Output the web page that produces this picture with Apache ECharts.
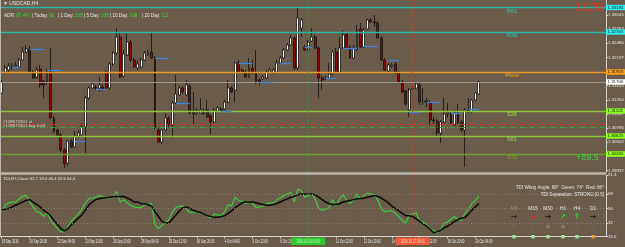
<!DOCTYPE html>
<html>
<head>
<meta charset="UTF-8">
<title>USDCAD,H4</title>
<script src="https://cdn.jsdelivr.net/npm/echarts@6/dist/echarts.min.js"></script>
<style>
  html, body { margin: 0; padding: 0; background: #6a5b4b; }
  #chart { width: 625px; height: 247px; }
</style>
</head>
<body>
<div id="chart"></div>
<script>
// H4 candles: open, high, low, close
const candles = [
  [1.31485,1.31745,1.31465,1.31705],[1.31905,1.32045,1.31865,1.31985],[1.31945,1.32085,1.31905,1.32025],[1.32005,1.32085,1.31945,1.32025],
  [1.32025,1.32105,1.31985,1.32045],[1.32005,1.32185,1.31985,1.32145],[1.32145,1.32405,1.32125,1.32305],[1.32305,1.32445,1.32285,1.32365],
  [1.32365,1.32425,1.31885,1.31905],[1.31905,1.31945,1.31765,1.31785],[1.31805,1.32005,1.31765,1.31945],[1.31965,1.32045,1.31585,1.31645],
  [1.31725,1.31745,1.31385,1.31645],[1.31705,1.31965,1.31645,1.31925],[1.31925,1.32385,1.30965,1.30985],[1.30985,1.31025,1.30685,1.30725],
  [1.30745,1.30765,1.30625,1.30645],[1.30645,1.30685,1.30305,1.30345],[1.30345,1.30385,1.29985,1.30065],[1.30085,1.30545,1.30025,1.30525],
  [1.30525,1.30565,1.30385,1.30405],[1.30405,1.30725,1.30385,1.30625],[1.30625,1.30745,1.30585,1.30685],[1.30645,1.30885,1.30625,1.30805],
  [1.30805,1.31425,1.30285,1.31385],[1.31385,1.31625,1.31345,1.31585],[1.31585,1.31705,1.31565,1.31665],[1.31605,1.31645,1.31545,1.31585],
  [1.31585,1.31805,1.31505,1.31645],[1.31605,1.31665,1.31525,1.31565],[1.31905,1.31945,1.31545,1.31585],[1.31585,1.32105,1.31545,1.32065],
  [1.32065,1.32325,1.32025,1.32285],[1.32285,1.32785,1.32245,1.32605],[1.32605,1.32685,1.31785,1.31805],[1.31825,1.32345,1.31785,1.32265],
  [1.32245,1.32705,1.32225,1.32505],[1.32505,1.32545,1.32105,1.32145],[1.32145,1.32185,1.31985,1.32005],[1.31985,1.32145,1.31945,1.32065],
  [1.32005,1.32185,1.31985,1.32145],[1.32145,1.32325,1.32125,1.32285],[1.32245,1.32345,1.32225,1.32305],[1.32305,1.32705,1.32165,1.32185],
  [1.32185,1.32225,1.30765,1.30785],[1.30745,1.30785,1.30485,1.30505],[1.30505,1.30765,1.30465,1.30745],[1.30745,1.31085,1.30725,1.30985],
  [1.30985,1.31025,1.30805,1.30845],[1.30845,1.31325,1.30585,1.31285],[1.31285,1.31845,1.31265,1.31465],[1.31445,1.31625,1.31425,1.31585],
  [1.31585,1.31625,1.31465,1.31505],[1.31445,1.31745,1.31425,1.31645],[1.31625,1.31665,1.31065,1.31085],[1.31125,1.31505,1.30845,1.31065],
  [1.31085,1.31185,1.31045,1.31105],[1.31085,1.31385,1.31065,1.31145],[1.31105,1.31185,1.31045,1.31085],[1.31145,1.31345,1.30985,1.31005],
  [1.31025,1.31065,1.30665,1.30905],[1.30905,1.31185,1.30885,1.31145],[1.31125,1.31225,1.31105,1.31185],[1.31165,1.31205,1.31105,1.31125],
  [1.31165,1.31345,1.31145,1.31305],[1.31305,1.31745,1.31285,1.31585],[1.31585,1.31625,1.31485,1.31505],[1.31545,1.32105,1.31305,1.32085],
  [1.32085,1.32145,1.31885,1.31905],[1.31945,1.31985,1.31885,1.31905],[1.31905,1.31945,1.31785,1.31805],[1.31805,1.32185,1.31785,1.31985],
  [1.31985,1.32145,1.31865,1.31885],[1.31905,1.32345,1.31665,1.31685],[1.31745,1.31785,1.31645,1.31705],[1.31765,1.31845,1.31745,1.31805],
  [1.31785,1.31945,1.31765,1.31905],[1.31905,1.31985,1.31885,1.31945],[1.31885,1.31985,1.31865,1.31945],[1.31905,1.32145,1.31885,1.32085],
  [1.32085,1.32225,1.32065,1.32185],[1.32185,1.32385,1.32165,1.32345],[1.32345,1.32485,1.32325,1.32445],[1.32445,1.32645,1.32425,1.32585],
  [1.32585,1.32625,1.31945,1.31985],[1.31985,1.33185,1.31945,1.32985],[1.32785,1.32985,1.32605,1.32945],[1.32405,1.32445,1.32325,1.32345],
  [1.32345,1.32545,1.32325,1.32505],[1.32525,1.32785,1.32505,1.32605],[1.32605,1.32645,1.32365,1.32385],[1.32385,1.32425,1.31385,1.31785],
  [1.31785,1.31825,1.31545,1.31745],[1.31765,1.31825,1.31745,1.31785],[1.31785,1.32085,1.31765,1.31865],[1.31865,1.32345,1.31845,1.32305],
  [1.32305,1.32385,1.31885,1.31905],[1.31905,1.32605,1.31885,1.32385],[1.32385,1.32745,1.32365,1.32645],[1.32665,1.32705,1.32365,1.32385],
  [1.32405,1.32445,1.32165,1.32185],[1.32185,1.32445,1.32165,1.32385],[1.32345,1.32845,1.32325,1.32745],[1.32765,1.32885,1.32385,1.32405],
  [1.32405,1.32785,1.32385,1.32745],[1.32765,1.32965,1.32745,1.32945],[1.32945,1.32985,1.32885,1.32905],[1.32905,1.33045,1.32805,1.32885],
  [1.32885,1.32925,1.32565,1.32585],[1.32585,1.32625,1.32125,1.32145],[1.32145,1.32185,1.31925,1.31945],[1.31925,1.32085,1.31905,1.32045],
  [1.32025,1.32085,1.31985,1.32045],[1.32065,1.32105,1.31865,1.31885],[1.31885,1.31925,1.31685,1.31705],[1.31705,1.31745,1.31485,1.31505],
  [1.31525,1.31545,1.31225,1.31265],[1.31145,1.31585,1.31005,1.31545],[1.31565,1.31625,1.31545,1.31585],[1.31585,1.31705,1.31565,1.31665],
  [1.31645,1.31685,1.31245,1.31305],[1.31305,1.31585,1.31245,1.31325],[1.31325,1.31385,1.31205,1.31305],[1.31285,1.31345,1.30845,1.30945],
  [1.30945,1.31005,1.30845,1.30925],[1.30925,1.30965,1.30605,1.30685],[1.30685,1.30945,1.30485,1.30905],[1.30905,1.31385,1.30885,1.31065],
  [1.31065,1.31285,1.30985,1.31085],[1.31065,1.31105,1.30865,1.30885],[1.30845,1.31145,1.30825,1.31085],[1.31105,1.31265,1.30865,1.30885],
  [1.30905,1.30945,1.30705,1.30745],[1.30745,1.31185,1.30005,1.31145],[1.31145,1.31385,1.31085,1.31105],[1.31105,1.31365,1.31085,1.31345],
  [1.31345,1.31505,1.31325,1.31485],[1.31465,1.31725,1.31445,1.31705]
];

// TDI: green price line and black signal line
const tdiGreen = [
  46,54,57,58,58,62,65,66,59,52, 46,45,40,45,36,30,25,21,21,27,
  34,39,43,49,57,62,63,64,66,65, 62,63,66,71,58,61,57,54,52,51,
  51,54,56,56,30,25,29,33,36,46, 51,53,53,50,45,45,45,44,43,40,
  38,43,42,41,46,55,53,64,60,59, 56,59,57,51,52,53,56,57,57,61,
  63,66,68,70,58,74,72,64,66,68, 62,50,48,49,51,61,53,62,67,60,
  56,60,68,61,66,69,68,67,60,50, 46,47,47,44,40,35,32,42,43,45,
  34,33,30,24,23,19,24,32,33,37, 40,36,35,44,49,56,60,65
];
const tdiBlack = [
  48,49,50,52,54,56,58,60,61,58, 55,52,48,45,41,35,30,25,22,25,
  30,34,38,42,48,54,58,61,62,63, 63,64,65,65,65,65,63,61,58,58,
  56,56,55,53,46,40,34,32,32,37, 42,47,51,52,50,48,46,45,43,41,
  40,39,39,40,41,44,47,51,54,57, 58,58,58,57,56,55,54,54,55,56,
  58,60,62,64,65,67,68,68,68,68, 67,64,61,58,56,55,55,56,58,59,
  60,61,62,62,63,64,65,66,65,63, 60,57,53,50,47,44,41,41,40,37,
  34,31,28,24,20,21,23,26,28,31, 34,36,38,39,43,48,52,56
];

const totalSlots = 174;   // bars shown incl. empty space on the right
const xTicks = [
  [0,'19 Sep 2016'],[8,'20 Sep 20:00'],[16,'22 Sep 04:00'],[24,'23 Sep 12:00'],[32,'26 Sep 20:00'],
  [40,'28 Sep 04:00'],[48,'29 Sep 12:00'],[56,'30 Sep 20:00'],[64,'4 Oct 04:00'],[72,'5 Oct 12:00'],
  [80,'6 Oct 20:00'],[88,'10 Oct 04:00'],[96,'11 Oct 12:00'],[104,'12 Oct 20:00'],[112,'14 Oct 04:00'],
  [120,'17 Oct 12:00'],[128,'18 Oct 20:00'],[136,'20 Oct 04:00']
];
const priceTicks = [1.29937,1.30220,1.30502,1.30785,1.31067,1.31350,1.31632,1.31915,1.32197,1.32480,1.32762,1.33045];
const tdiTicks = [15.5, 32, 50, 68, 91.3];
const tdiLevels = [32, 50, 68];

const levelNames = ['R61','R38','Pivot','S38','S61','S78'];
const levelValues = [1.33195,1.32705,1.31905,1.31125,1.30625,1.30265];
const currentPrice = 1.31706;
const orderStop = 1.30855;
const orderOpen = 1.30795;
const orderTexts = ['#128572301 sl', '#128572301 buy 0.03'];

// short blue marks: from bar, to bar, price
const blueSegs = [
  [3,5,1.32005],[8,12,1.32365],[13,17,1.31945],[21,24,1.30525],[27,30,1.31565],
  [44,48,1.32185],[50,54,1.31285],[63,66,1.31125],[68,72,1.32085],[74,78,1.31705],
  [80,83,1.32085],[87,89,1.32405],[93,96,1.31785],[98,102,1.32385],[104,108,1.32425],
  [111,114,1.32145],[117,120,1.31105],[122,126,1.31305],[129,132,1.31085],[134,137,1.31165]
];
const markerBars = [88, 118];
const markerTexts = ['2016.10.10 04:00', '2016.10.17 04:00'];

const adrItems = [['ADR:','87.4%'],['| Today:','92'],['| 1 Day:','108'],['| 5 Day:','108'],['| 10 Day:','108'],['| 20 Day:','111']];
const tdiHeader = 'TDI-R7-Close 61.7 19.0 40.4 37.6 64.4';
const tdiInfo = ['TDI Wkng Angle: 68°  Green: 74°  Red: 66°', 'TDI Separation: STRONG [0.5]'];
const tfNames = ['M5','M15','M30','H1','H4','D1'];
const tfArrows = ['→','↘','→','↗','↑','→'];
const tfIcons = ['✎','○','●','●','○','•'];
const moveText = '+89.5';

const FONT = 'Liberation Sans';
const slots = Array.from({length: totalSlots}, (_, i) => String(i));
const tickMap = new Map(xTicks);

const levelColors = ['#2db5a5','#2db5a5','#e39a2a','#8cc63f','#8cc63f','#6f9a33'];
const tagColors = ['#2ef0ee','#2ef0ee','#ffa31a','#8cff1a','#8cff1a','#8cff1a'];

const markData = levelValues.map((v, i) => ({
  yAxis: v, lineStyle: { color: levelColors[i], width: 1.4, type: 'solid' }
}));
markData.push({ yAxis: currentPrice, lineStyle: { color: '#9a958f', width: 1, type: 'solid' } });
markData.push({ yAxis: orderStop, lineStyle: { color: '#d42a2a', width: 1, type: [5, 2, 1, 2] } });
markData.push({ yAxis: orderOpen, lineStyle: { color: '#3aa63a', width: 1, type: [5, 2, 1, 2] } });
markData.push({ xAxis: markerBars[0], lineStyle: { color: '#3d9a3d', width: 1, type: [1, 2] } });
markData.push({ xAxis: markerBars[1], lineStyle: { color: '#e23a2a', width: 1, type: [1, 2] } });
blueSegs.forEach(s => {
  markData.push([
    { coord: [s[0], s[2]], lineStyle: { color: '#3d86d8', width: 1.3, type: 'solid' } },
    { coord: [s[1], s[2]] }
  ]);
});

const option = {
  animation: false,
  backgroundColor: '#6a5b4b',
  grid: [
    { left: 0, right: 19, top: 0, height: 172, containLabel: false, outerBoundsMode: 'none' },
    { left: 0, right: 19, top: 175.2, bottom: 10.7, containLabel: false, outerBoundsMode: 'none' }
  ],
  xAxis: [
    { type: 'category', gridIndex: 0, data: slots, axisLine: { show: false },
      axisTick: { show: false }, axisLabel: { show: false }, splitLine: { show: false } },
    { type: 'category', gridIndex: 1, data: slots,
      axisLine: { show: true, lineStyle: { color: '#d6d2cc', width: 1 } },
      axisTick: { show: true, alignWithLabel: true, length: 2, interval: i => tickMap.has(i),
        lineStyle: { color: '#d6d2cc' } },
      axisLabel: { show: false },
      splitLine: { show: false } }
  ],
  yAxis: [
    { type: 'value', gridIndex: 0, position: 'right', min: 1.29905, max: 1.33345, scale: true,
      axisLine: { show: true, lineStyle: { color: '#d6d2cc', width: 1 } },
      axisTick: { show: true, length: 2, customValues: priceTicks, lineStyle: { color: '#d6d2cc' } },
      axisLabel: { customValues: priceTicks, formatter: v => v.toFixed(5), margin: 2, color: '#e6e6e6',
        fontSize: 4.4, fontFamily: FONT },
      splitLine: { show: false } },
    { type: 'value', gridIndex: 1, position: 'right', min: 15.5, max: 91.3,
      axisLine: { show: true, lineStyle: { color: '#d6d2cc', width: 1 } },
      axisTick: { show: true, length: 2, customValues: tdiTicks, lineStyle: { color: '#d6d2cc' } },
      axisLabel: { customValues: tdiTicks, formatter: v => String(v), margin: 2, color: '#e6e6e6',
        fontSize: 4.4, fontFamily: FONT },
      splitLine: { show: false } }
  ],
  series: [
    {
      type: 'candlestick', xAxisIndex: 0, yAxisIndex: 0,
      data: candles.map(c => [c[0], c[3], c[2], c[1]]),
      barWidth: 2.4,
      itemStyle: { color: '#ffffff', color0: '#8e0c0c', borderColor: '#151210', borderColor0: '#151210', borderWidth: 0.8 },
      markLine: { silent: true, symbol: ['none', 'none'], animation: false, precision: 6, label: { show: false },
        emphasis: { disabled: true }, data: markData }
    },
    {
      type: 'line', xAxisIndex: 1, yAxisIndex: 1, data: tdiGreen, symbol: 'none',
      lineStyle: { color: '#3ccf3c', width: 1.2 }, z: 3,
      markLine: { silent: true, symbol: ['none', 'none'], animation: false, precision: 6, label: { show: false },
        data: tdiLevels.map(v => ({ yAxis: v, lineStyle: { color: '#8c7e70', width: 1, type: [1, 2] } }))
          .concat([
            { xAxis: markerBars[0], lineStyle: { color: '#3d9a3d', width: 1, type: [1, 2] } },
            { xAxis: markerBars[1], lineStyle: { color: '#e23a2a', width: 1, type: [1, 2] } }
          ]) }
    },
    {
      type: 'line', xAxisIndex: 1, yAxisIndex: 1, data: tdiBlack, symbol: 'none',
      lineStyle: { color: '#0a0a0a', width: 1.5 }, z: 4
    }
  ]
};

const chart = echarts.init(document.getElementById('chart'));
chart.setOption(option);

// overlay texts and price tags, placed through the axes
const py = v => chart.convertToPixel({ yAxisIndex: 0 }, v);
const px = i => chart.convertToPixel({ xAxisIndex: 0 }, i);
const g = [];
const txt = (x, y, text, fill, size, extra) => g.push(Object.assign({
  type: 'text', x: x, y: y, z: 100,
  style: Object.assign({ text: text, fill: fill, fontSize: size, fontFamily: FONT,
    align: 'left', verticalAlign: 'middle' }, (extra && extra.style) || {})
}, extra && extra.el));

// panel separator and left border
g.push({ type: 'rect', z: 90, shape: { x: 0, y: 172.2, width: 606, height: 2.6 }, style: { fill: '#bdb6ad' } });
g.push({ type: 'rect', z: 90, shape: { x: 0, y: 0, width: 1, height: 237 }, style: { fill: '#bdb6ad' } });

txt(3, 4, '▼ USDCAD,H4', '#e8e8e8', 5);
const adrX = [4, 32, 58, 84, 110, 142];
adrItems.forEach((a, i) => {
  g.push({ type: 'text', x: adrX[i], y: 16, z: 100, style: {
    text: '{l|' + a[0] + '} {v|' + a[1] + '}', verticalAlign: 'middle', fontFamily: FONT, fontSize: 4.6,
    rich: { l: { fill: '#e8e8e8', fontSize: 4.6, fontFamily: FONT }, v: { fill: '#3ad43a', fontSize: 4.6, fontFamily: FONT } } } });
});

levelNames.forEach((n, i) => {
  txt(512, py(levelValues[i]) + 3.7, n, levelColors[i], 5.5, { style: { align: 'center', fontWeight: 'bold' } });
});
txt(576, py(levelValues[5]) + 4, moveText, '#44d444', 9);
txt(576, 8, currentPrice.toFixed(5), '#ff2a1e', 10.5, { el: { scaleX: 0.75 } });

txt(3, py(orderStop) - 3, orderTexts[0], '#dcdcdc', 4.4);
txt(3, py(orderStop) + 1.2, orderTexts[1], '#dcdcdc', 4.4);

const tags = levelValues.map((v, i) => [v, tagColors[i]]).concat([[currentPrice, '#ffffff']]);
tags.forEach(t => {
  const y = py(t[0]);
  g.push({ type: 'rect', z: 95, shape: { x: 606, y: y - 2.7, width: 19, height: 5.4 }, style: { fill: t[1] } });
  txt(607.5, y, t[0].toFixed(5), '#1a1a1a', 4.4, { el: { z: 96 } });
});

// time labels under the indicator panel
xTicks.forEach(t => {
  txt(px(t[0]), 241.5, t[1], '#ececec', 4.7, { el: { scaleX: 0.63, z: 99 } });
});

txt(3, 178.6, tdiHeader, '#e8e8e8', 4.2);
txt(604, 187.5, tdiInfo[0], '#e8e8e8', 4.6, { style: { align: 'right' } });
txt(604, 195, tdiInfo[1], '#e8e8e8', 4.6, { style: { align: 'right' } });

const tfX = [514, 533, 548, 563, 577, 593];
const arrowColors = ['#1e1a16', '#ff1a1a', '#111111', '#22e022', '#22e022', '#111111'];
const squareColors = ['#9be89b', '#9be89b', '#9be89b', '#9be89b', '#9be89b', '#f0a030'];
tfNames.forEach((n, i) => {
  txt(tfX[i], 208.5, n, i === 0 ? '#9c8e80' : '#e8e8e8', 4.8, { style: { align: 'center' } });
  txt(tfX[i], 217.5, tfArrows[i], arrowColors[i], 7.5, { style: { align: 'center', fontWeight: 'bold', fontFamily: 'DejaVu Sans' } });
  txt(tfX[i], 227, tfIcons[i], '#87796b', 5, { style: { align: 'center', fontFamily: 'DejaVu Sans' } });
  g.push({ type: 'rect', z: 100, shape: { x: tfX[i] - 1.7, y: 235, width: 3.4, height: 3.4 }, style: { fill: squareColors[i] } });
});

const markerFill = ['#2ecb2e', '#f05a3a'];
const markerInk = ['#b9f7b9', '#ffd6c8'];
markerBars.forEach((b, i) => {
  const x = px(b);
  g.push({ type: 'rect', z: 100, shape: { x: x - 17, y: 237.5, width: 34, height: 7.5 }, style: { fill: markerFill[i] } });
  txt(x, 241.3, markerTexts[i], markerInk[i], 4.7, { style: { align: 'center' }, el: { scaleX: 0.66, z: 101 } });
});

chart.setOption({ graphic: { elements: g } });
</script>
</body>
</html>
